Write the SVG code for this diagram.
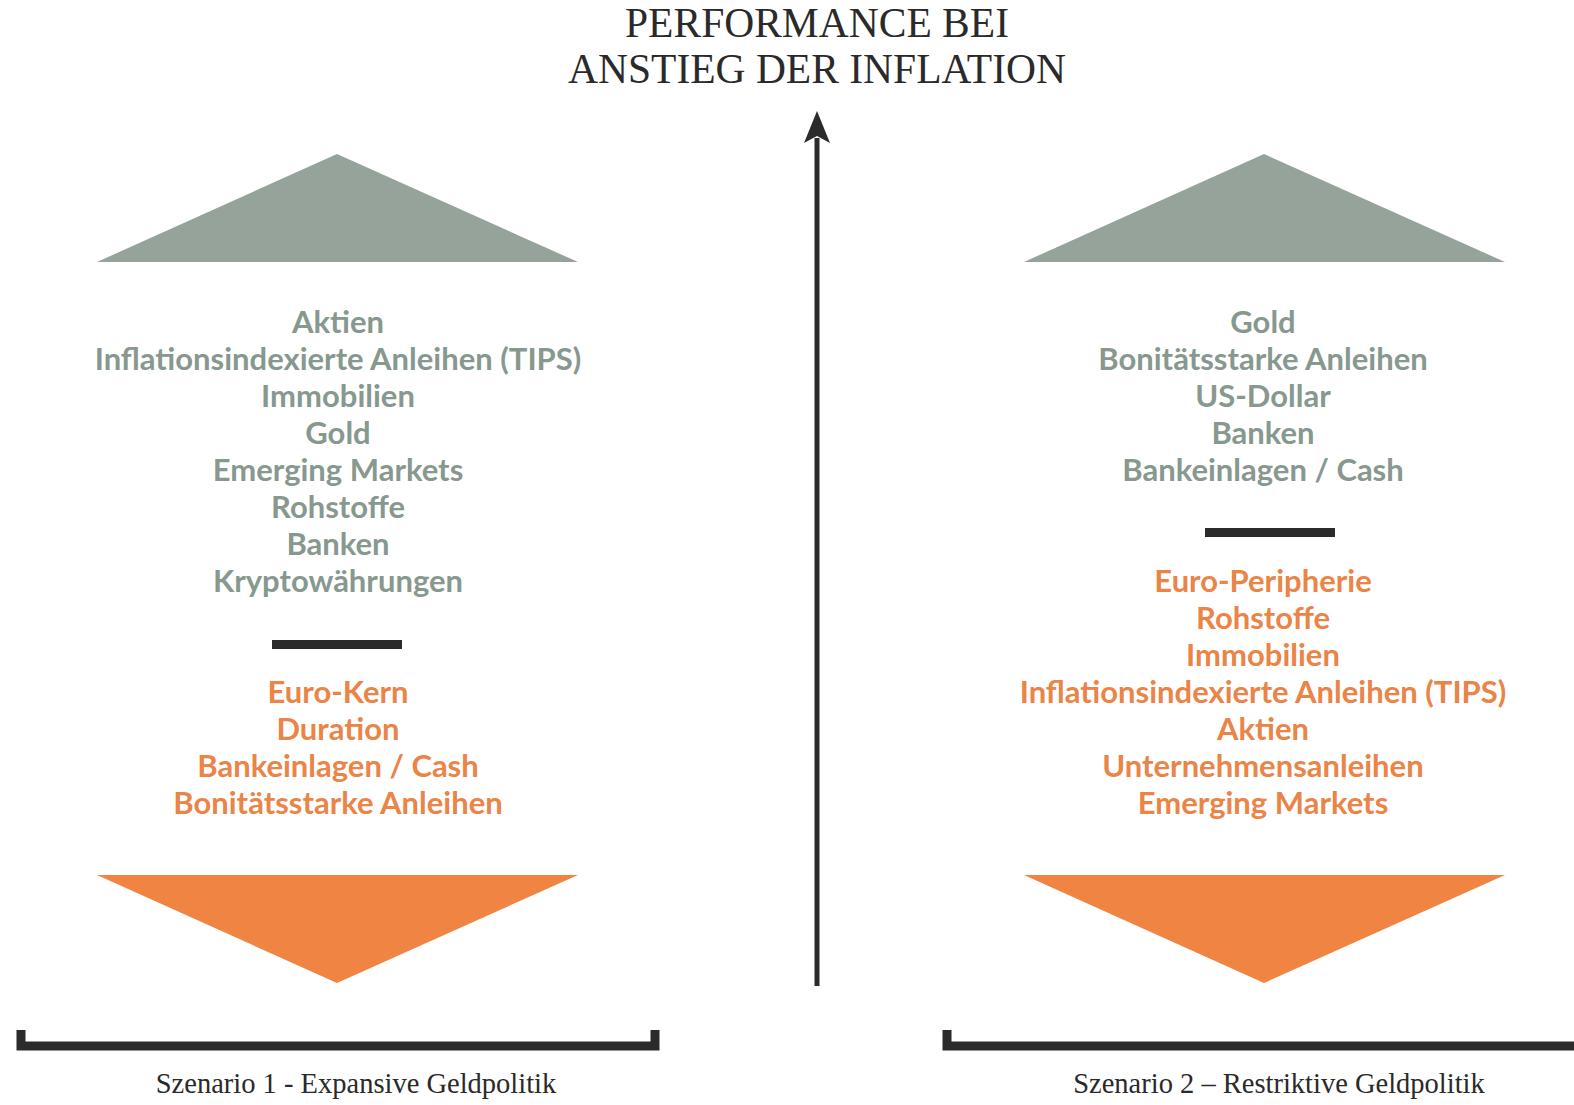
<svg xmlns="http://www.w3.org/2000/svg" width="1574" height="1105" viewBox="0 0 1574 1105">
<defs>
<style>
.title{font-family:"Liberation Serif","DejaVu Serif",serif;font-size:41.5px;fill:#2a2a2a;text-anchor:middle}
.sub{font-family:"Liberation Serif","DejaVu Serif",serif;font-size:28.5px;fill:#2a2a2a;text-anchor:middle}
.g{font-family:Lato,"Open Sans",sans-serif;font-weight:700;font-size:31px;fill:#87988f;text-anchor:middle}
.o{font-family:Lato,"Open Sans",sans-serif;font-weight:700;font-size:31px;fill:#ea8447;text-anchor:middle}
.up{fill:#95a39a}
.down{fill:#ef8443}
.bar{fill:#2b2b2b}
.br{fill:none;stroke:#2b2b2b;stroke-width:9}
</style>
</defs>
<rect width="1574" height="1105" fill="#ffffff"/>
<g id="title">
<text class="title" x="817" y="37">PERFORMANCE BEI</text>
<text class="title" x="817" y="83">ANSTIEG DER INFLATION</text>
</g>
<g id="connectors">
<line x1="817" y1="138" x2="817" y2="986" stroke="#2b2b2b" stroke-width="5"/>
<polygon points="817,111 830,143 817,136 804,143" fill="#2b2b2b"/>
</g>
<g id="scenario1">
<polygon class="up" points="337,154 578,262 97,262"/>
<text class="g" x="338" y="333">Aktien</text>
<text class="g" x="338" y="370">Inflationsindexierte Anleihen (TIPS)</text>
<text class="g" x="338" y="407">Immobilien</text>
<text class="g" x="338" y="444">Gold</text>
<text class="g" x="338" y="481">Emerging Markets</text>
<text class="g" x="338" y="518">Rohstoffe</text>
<text class="g" x="338" y="555">Banken</text>
<text class="g" x="338" y="592">Kryptowährungen</text>
<rect class="bar" x="272" y="640" width="130" height="9"/>
<text class="o" x="338" y="703">Euro-Kern</text>
<text class="o" x="338" y="740">Duration</text>
<text class="o" x="338" y="777">Bankeinlagen / Cash</text>
<text class="o" x="338" y="814">Bonitätsstarke Anleihen</text>
<polygon class="down" points="97,875 578,875 337,983"/>
<path class="br" d="M21,1030 V1046 H655 V1030"/>
<text class="sub" x="356" y="1093">Szenario 1 - Expansive Geldpolitik</text>
</g>
<g id="scenario2">
<polygon class="up" points="1264,154 1505,262 1024,262"/>
<text class="g" x="1263" y="333">Gold</text>
<text class="g" x="1263" y="370">Bonitätsstarke Anleihen</text>
<text class="g" x="1263" y="407">US-Dollar</text>
<text class="g" x="1263" y="444">Banken</text>
<text class="g" x="1263" y="481">Bankeinlagen / Cash</text>
<rect class="bar" x="1205" y="528" width="130" height="9"/>
<text class="o" x="1263" y="592">Euro-Peripherie</text>
<text class="o" x="1263" y="629">Rohstoffe</text>
<text class="o" x="1263" y="666">Immobilien</text>
<text class="o" x="1263" y="703">Inflationsindexierte Anleihen (TIPS)</text>
<text class="o" x="1263" y="740">Aktien</text>
<text class="o" x="1263" y="777">Unternehmensanleihen</text>
<text class="o" x="1263" y="814">Emerging Markets</text>
<polygon class="down" points="1024,875 1505,875 1264,983"/>
<path class="br" d="M947,1030 V1046 H1574"/>
<text class="sub" x="1279" y="1093">Szenario 2 – Restriktive Geldpolitik</text>
</g>
</svg>
